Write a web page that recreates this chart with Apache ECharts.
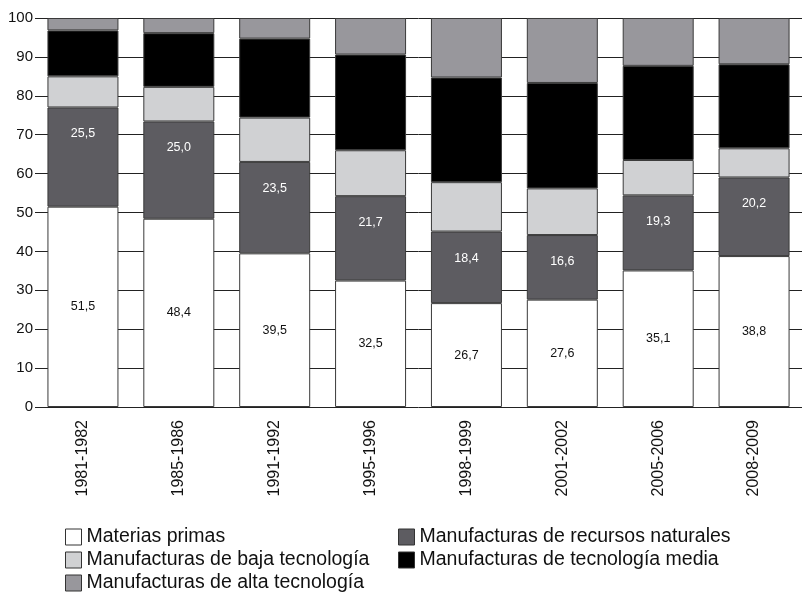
<!DOCTYPE html>
<html lang="es">
<head>
<meta charset="utf-8">
<title>Estructura de exportaciones</title>
<style>
  html, body { margin: 0; padding: 0; background: #fff; }
</style>
</head>
<body>
<div id="main" style="width: 805px;height:592px;"></div>

<script src="https://cdn.jsdelivr.net/npm/echarts@6/dist/echarts.min.js"></script>
<script>
// periodos
var periodos = ['1981-1982', '1985-1986', '1991-1992', '1995-1996', '1998-1999', '2001-2002', '2005-2006', '2008-2009'];

// porcentajes
var materiasPrimas   = [51.5, 48.4, 39.5, 32.5, 26.7, 27.6, 35.1, 38.8];
var recursosNat      = [25.5, 25.0, 23.5, 21.7, 18.4, 16.6, 19.3, 20.2];
var bajaTecnologia   = [8.0, 8.9, 11.4, 11.8, 12.7, 12.0, 9.1, 7.5];
var mediaTecnologia  = [11.8, 13.8, 20.3, 24.6, 26.9, 27.1, 24.2, 21.6];
var altaTecnologia   = [3.2, 3.9, 5.3, 9.4, 15.3, 16.7, 12.3, 11.9];

var yTicks = [0, 10, 20, 30, 40, 50, 60, 70, 80, 90, 100];

var fuente = '"Liberation Sans", Arial, Helvetica, sans-serif';

function fmt(p) {
    return p.value.toFixed(1).replace('.', ',');
}

function serie(nombre, datos, color, label) {
    return {
        name: nombre,
        type: 'bar',
        stack: 'total',
        barWidth: 71,
        data: datos,
        itemStyle: { color: color, borderColor: '#3a3a3a', borderWidth: 1 },
        label: label || { show: false },
        emphasis: { disabled: true }
    };
}

// una leyenda por elemento, para fijar las dos columnas
function leyenda(x, y, nombre) {
    return {
        left: x, top: y,
        padding: 0,
        itemWidth: 16, itemHeight: 16, itemGap: 0,
        icon: 'rect',
        itemStyle: { borderColor: '#333', borderWidth: 1 },
        textStyle: { fontSize: 19.5, lineHeight: 20, color: '#111', fontFamily: fuente },
        data: [nombre]
    };
}

var myChart = echarts.init(document.getElementById('main'));

var option = {
    backgroundColor: '#fff',
    animation: false,
    textStyle: { fontFamily: fuente },
    grid: { left: 35, right: 3, top: 18, bottom: 185 },
    legend: [
        leyenda(65, 527, 'Materias primas'),
        leyenda(65, 550, 'Manufacturas de baja tecnología'),
        leyenda(65, 573, 'Manufacturas de alta tecnología'),
        leyenda(398, 527, 'Manufacturas de recursos naturales'),
        leyenda(398, 550, 'Manufacturas de tecnología media')
    ],
    xAxis: {
        type: 'category',
        data: periodos,
        axisLine: { show: false },
        axisTick: { show: false },
        axisLabel: { rotate: 90, margin: 13, fontSize: 16, color: '#111', fontFamily: fuente }
    },
    yAxis: {
        type: 'value',
        min: yTicks[0],
        max: yTicks[yTicks.length - 1],
        interval: 10,
        axisLine: { show: false },
        axisTick: { show: false },
        axisLabel: { margin: 2, fontSize: 15, color: '#111', fontFamily: fuente },
        splitLine: { show: true, lineStyle: { color: '#222', width: 1 } }
    },
    series: [
        serie('Materias primas', materiasPrimas, '#ffffff', {
            show: true, position: 'inside', fontSize: 12.5, color: '#111',
            fontFamily: fuente, formatter: fmt
        }),
        serie('Manufacturas de recursos naturales', recursosNat, '#5d5c61', {
            show: true, position: 'insideTop', distance: 20, fontSize: 12.5, color: '#fff',
            fontFamily: fuente, formatter: fmt
        }),
        serie('Manufacturas de baja tecnología', bajaTecnologia, '#d0d1d3'),
        serie('Manufacturas de tecnología media', mediaTecnologia, '#000000'),
        serie('Manufacturas de alta tecnología', altaTecnologia, '#98979c')
    ]
};

myChart.setOption(option);
window.addEventListener('resize', function () {
    myChart.resize();
});
</script>
</body>
</html>
